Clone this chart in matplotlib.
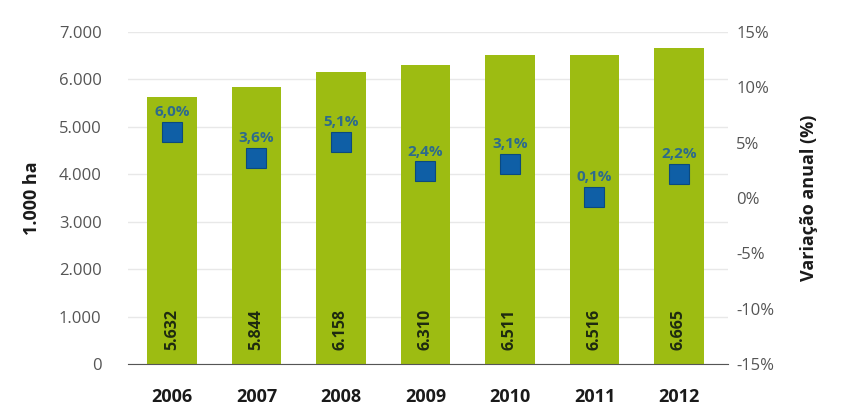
import numpy as np
import matplotlib.pyplot as plt

plt.rcParams['font.family'] = ['Open Sans', 'DejaVu Sans']
plt.rcParams['axes.unicode_minus'] = False

anos = ['2006', '2007', '2008', '2009', '2010', '2011', '2012']
area = [5632, 5844, 6158, 6310, 6511, 6516, 6665]          # 1.000 ha
variacao = [6.0, 3.6, 5.1, 2.4, 3.1, 0.1, 2.2]             # % ao ano

verde = '#9dbc12'
azul = '#0f5fa6'
texto_pct = '#2d6b8c'

fig = plt.figure(figsize=(8.42, 4.12), dpi=100)
ax = fig.add_axes([128/842, 1-364/412, 600/842, 332/412])
x = np.arange(len(anos))

ax.bar(x, area, width=0.59, color=verde, zorder=2)
ax.set_ylim(0, 7000)
ax.set_xlim(-0.52, len(anos)-0.42)
ax.set_yticks(np.arange(0, 7001, 1000))
ax.set_yticklabels(['0'] + [f'{v//1000}.000' for v in range(1000, 7001, 1000)])
ax.grid(axis='y', color='#e8e8e8', lw=1, zorder=0)
ax.set_xticks(x)
ax.set_xticklabels(anos, fontsize=13, fontweight='bold', color='#1a1a1a')
for s in ['top', 'right', 'left']:
    ax.spines[s].set_visible(False)
ax.spines['bottom'].set_color('#555555')
ax.tick_params(axis='y', length=0, labelsize=12, labelcolor='#555555', pad=19)
ax.tick_params(axis='x', length=0, pad=17)
ax.set_ylabel('1.000 ha', fontsize=13, fontweight='bold', color='#1a1a1a')
ax.yaxis.set_label_coords(-0.145, 0.5)

for xi, v in zip(x, area):
    ax.text(xi, 300, f'{v/1000:.3f}', rotation=90, ha='center', va='bottom',
            fontsize=11.5, fontweight='bold', color='#1e2a10', zorder=3)

ax2 = ax.twinx()
ax2.set_ylim(-15, 15)
ax2.set_yticks(np.arange(-15, 16, 5))
ax2.set_yticklabels([f'{t}%' for t in range(-15, 16, 5)])
for s in ax2.spines.values():
    s.set_visible(False)
ax2.tick_params(axis='y', length=0, labelsize=12, labelcolor='#555555', pad=6)
ax2.set_ylabel('Variação anual (%)', fontsize=13, fontweight='bold', color='#1a1a1a')
ax2.yaxis.set_label_coords(1.12, 0.5)

ax2.plot(x, variacao, ls='none', marker='s', ms=14.5, color=azul,
         markeredgecolor='#0b4a7e', markeredgewidth=0.8, zorder=4)
for xi, v in zip(x, variacao):
    ax2.text(xi, v + 1.15, f'{v:.1f}%'.replace('.', ','), ha='center', va='bottom',
             fontsize=11, fontweight='bold', color=texto_pct, zorder=5)

fig.savefig('out.png', dpi=100)
